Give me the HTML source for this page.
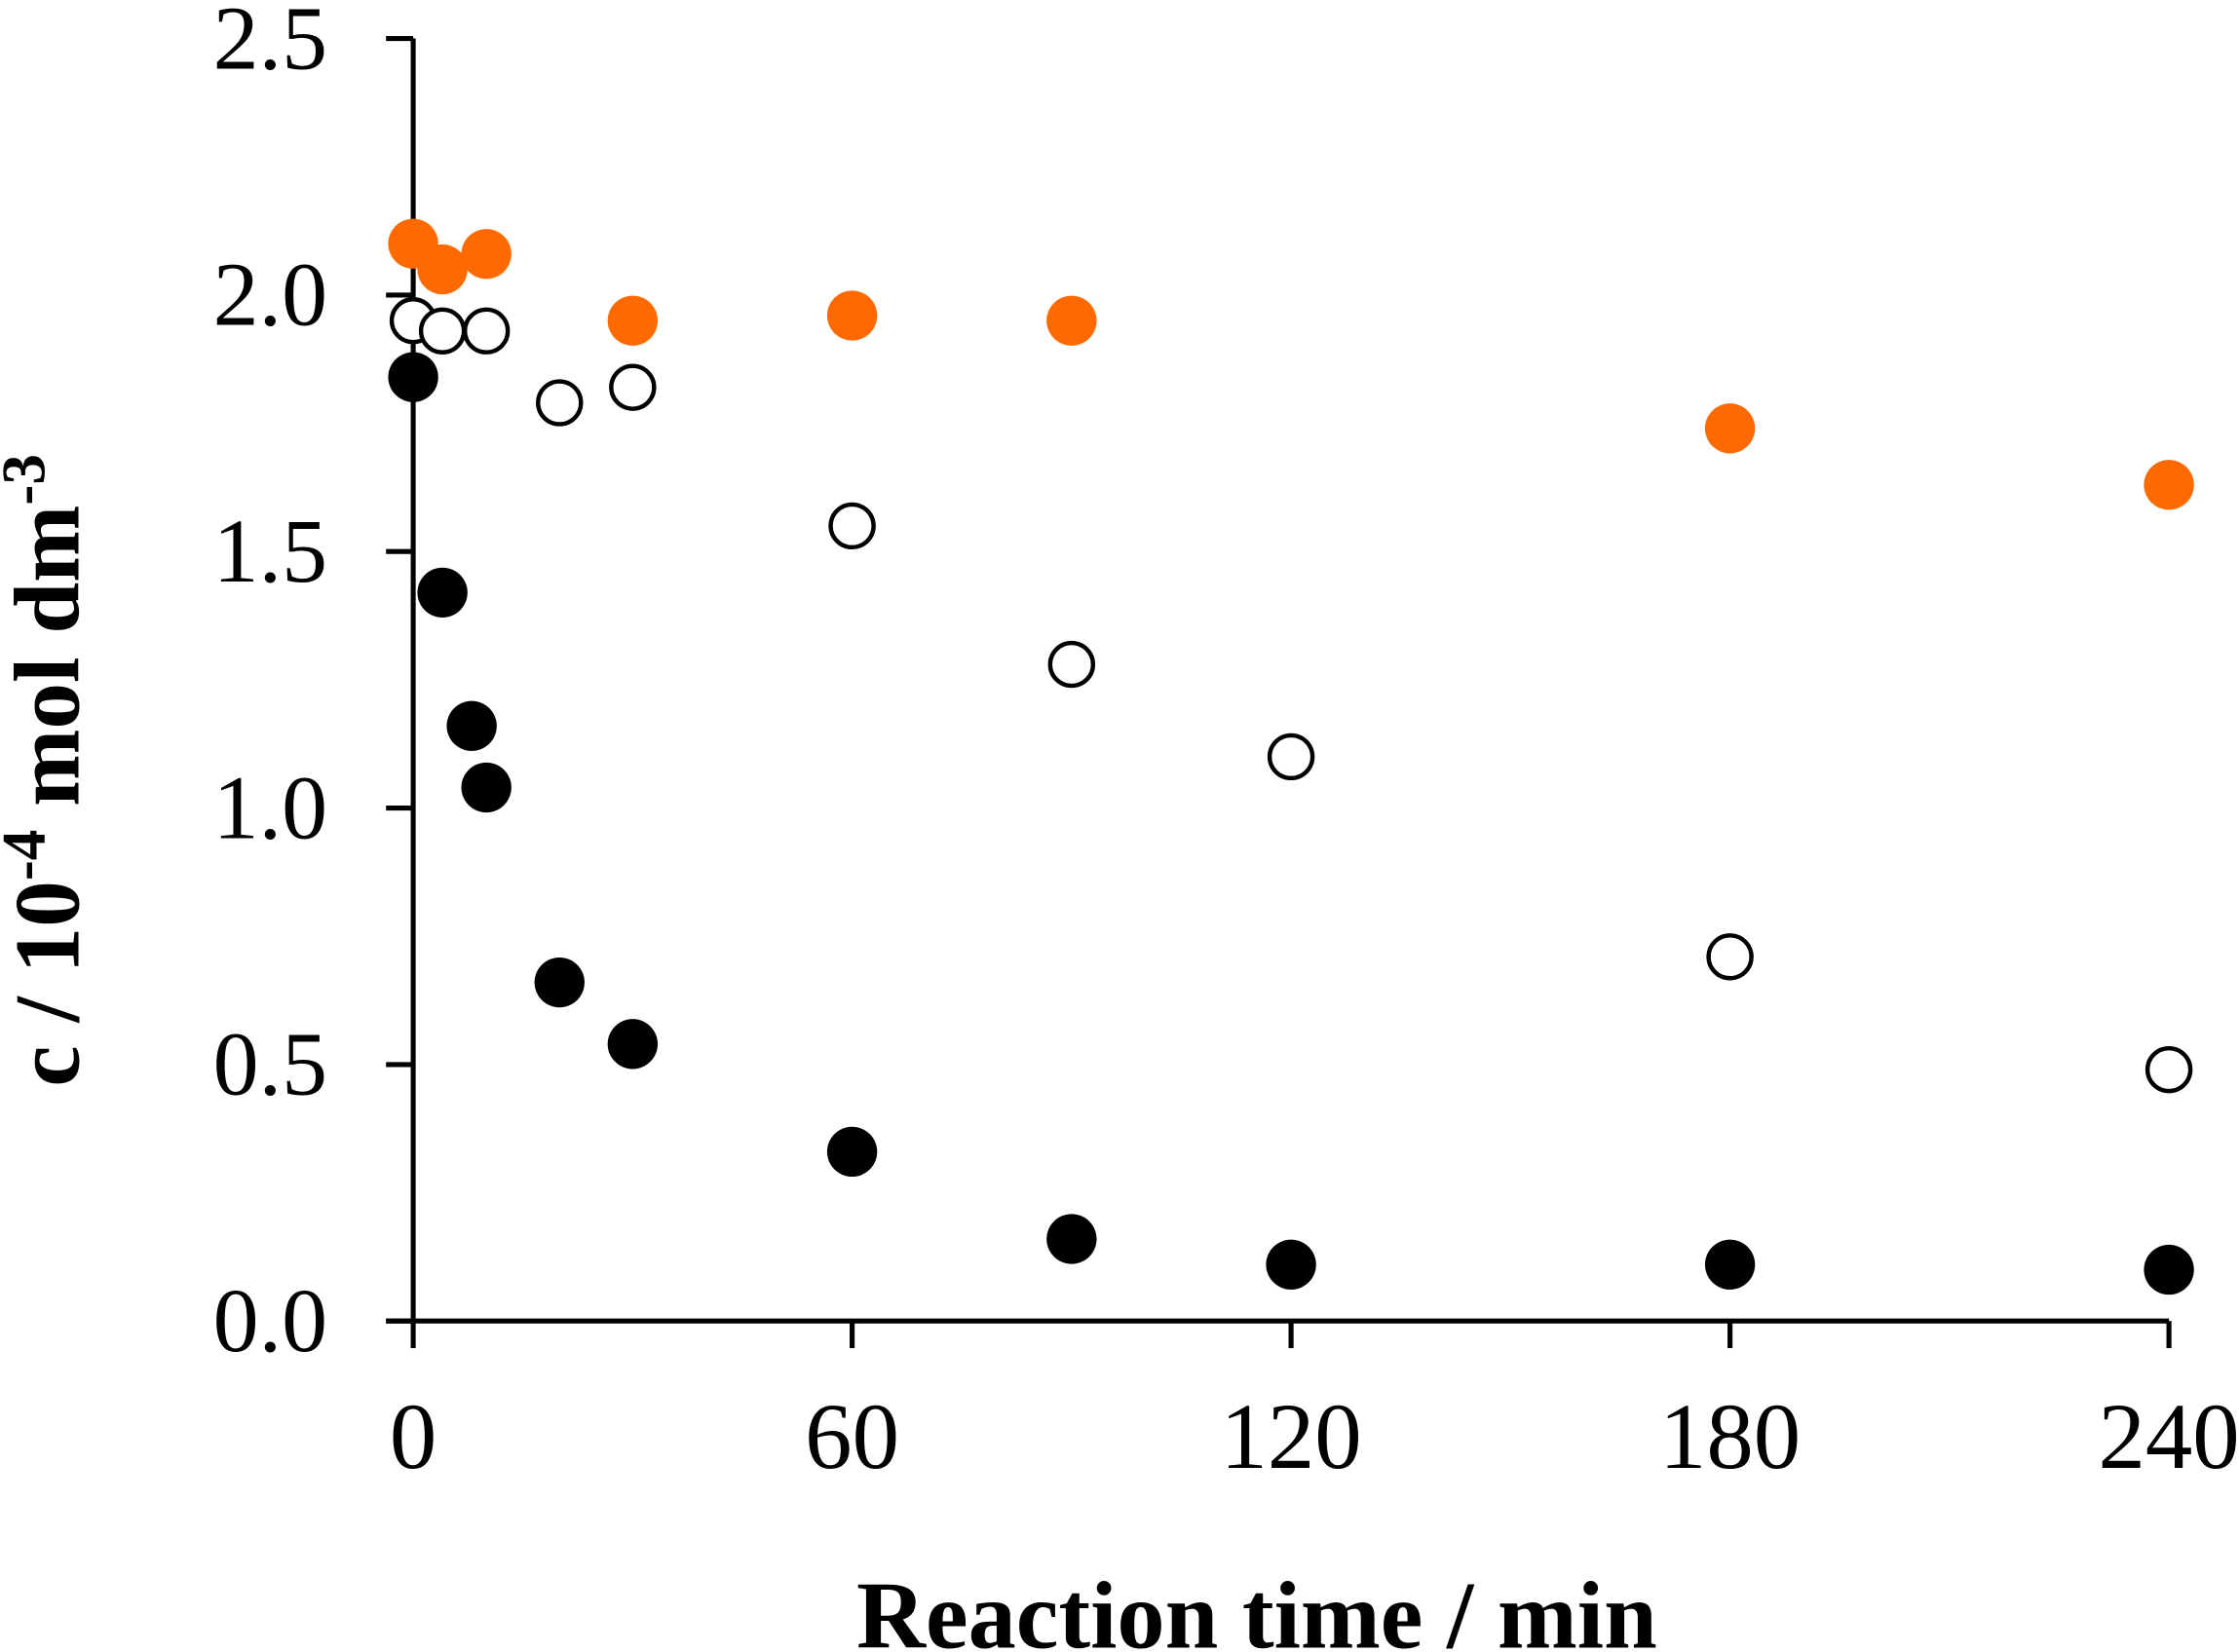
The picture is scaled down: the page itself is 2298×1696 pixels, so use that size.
<!DOCTYPE html>
<html><head><meta charset="utf-8"><style>
html,body{margin:0;padding:0;background:#fff;}
svg{display:block;}
</style></head><body>
<svg id="chart" width="2298" height="1696" viewBox="0 0 1566 1158" preserveAspectRatio="none" xmlns="http://www.w3.org/2000/svg" font-family="Liberation Serif, serif">
<g id="axes"></g>
<g id="marks"></g>
<text transform="translate(55,540) rotate(-90)" text-anchor="middle" font-size="65" font-weight="bold">c / 10<tspan dy="-24" font-size="43">-4</tspan><tspan dy="24"> mol dm</tspan><tspan dy="-24" font-size="43">-3</tspan></text>
<text x="879" y="1155" text-anchor="middle" font-size="67" font-weight="bold">Reaction time / min</text>
</svg>
<script>
const xTicks=[0,60,120,180,240];
const yTicks=[0,0.5,1.0,1.5,2.0,2.5];
const orangeT=[0,4,10,30,60,90,180,240];
const orangeC=[2.10,2.05,2.08,1.95,1.96,1.95,1.74,1.63];
const openT=[0,4,10,20,30,60,90,120,180,240];
const openC=[1.95,1.93,1.93,1.79,1.82,1.55,1.28,1.10,0.71,0.49];
const blackT=[0,4,8,10,20,30,60,90,120,180,240];
const blackC=[1.84,1.42,1.16,1.04,0.66,0.54,0.33,0.16,0.11,0.11,0.10];
const NS='http://www.w3.org/2000/svg';
const X=v=>289+v*(1517-289)/240;
const Y=v=>926-v*(926-27)/2.5;
const axes=document.getElementById('axes'),marks=document.getElementById('marks');
function mk(t,a,p){const e=document.createElementNS(NS,t);for(const k in a)e.setAttribute(k,a[k]);p.appendChild(e);return e;}
let l=mk('line',{x1:289,y1:Y(2.5),x2:289,y2:926,stroke:'#000','stroke-width':3.5},axes);


l=mk('line',{x1:270,y1:926,x2:X(240),y2:926,stroke:'#000','stroke-width':3.5},axes);


yTicks.forEach(v=>{
 const t=mk('line',{x1:270,y1:Y(v),x2:289,y2:Y(v),stroke:'#000','stroke-width':3.5},axes);
 
 
 const s=mk('text',{x:229,y:Y(v)+21,'text-anchor':'end','font-size':64},axes);
 s.textContent=v.toFixed(1);
 
 
});
xTicks.forEach(v=>{
 const t=mk('line',{x1:X(v),y1:926,x2:X(v),y2:945,stroke:'#000','stroke-width':3.5},axes);
 
 
 const s=mk('text',{x:X(v),y:1029,'text-anchor':'middle','font-size':66},axes);
 s.textContent=v;
 
 
});
function series(ts,cs,fill,stroke,name){
 ts.forEach((t,i)=>{
  const c=mk('circle',{cx:X(t),cy:Y(cs[i]),r:fill==='#fff'?15:17.5,fill:fill,stroke:stroke,'stroke-width':fill==='#fff'?3:0},marks);
  
  
 });
}
series(orangeT,orangeC,'#ff6a00','none','orange-point');
series(openT,openC,'#fff','#000','open-point');
series(blackT,blackC,'#000','none','black-point');
</script>
</body></html>
